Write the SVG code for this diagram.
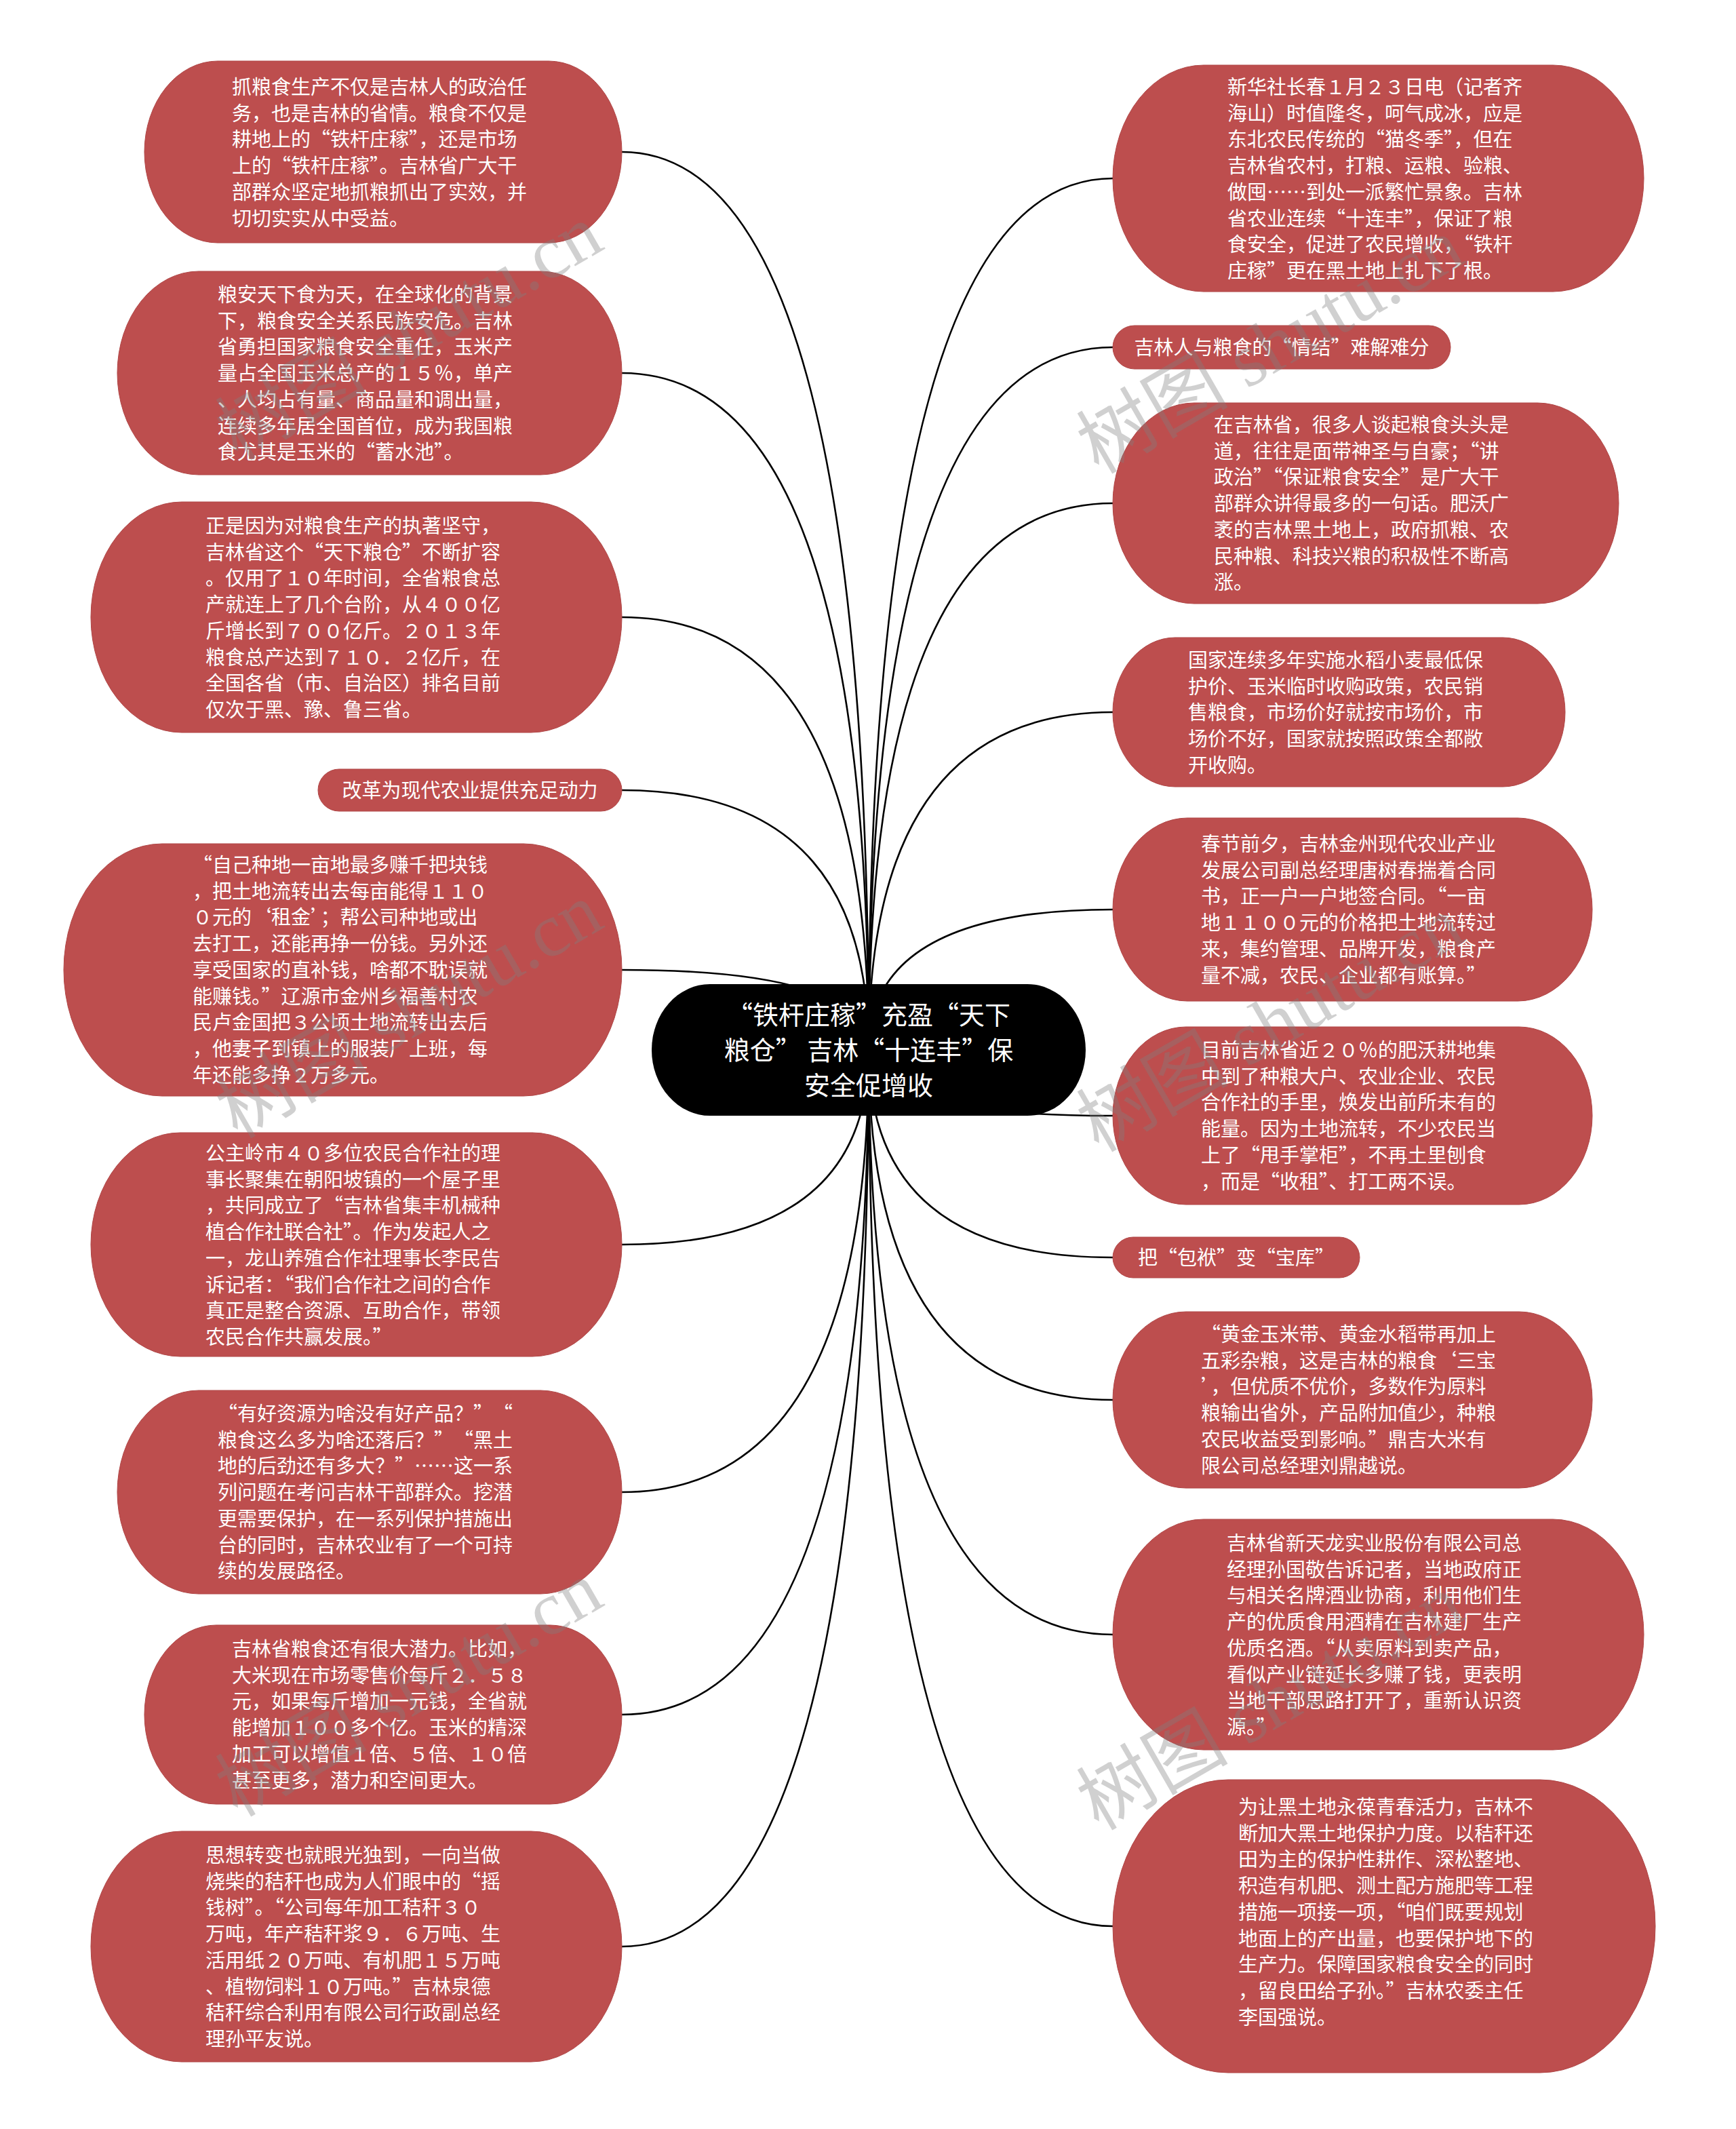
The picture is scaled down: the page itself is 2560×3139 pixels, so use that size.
<svg xmlns="http://www.w3.org/2000/svg" width="2560" height="3139" viewBox="0 0 2560 3139">
<style>
.bg{fill:#ffffff}
.node{fill:#BD4E4E;stroke:#B04646;stroke-width:1}
.t{font-family:"Noto Sans CJK SC","Microsoft YaHei",sans-serif;font-size:29px;fill:#ffffff}
.tc{font-family:"Noto Sans CJK SC",sans-serif;font-size:38px;fill:#ffffff;text-anchor:middle}
.lbl{text-anchor:middle}
.edge{fill:none;stroke:#000000;stroke-width:2.6}
.wm{font-family:"Liberation Serif","Noto Sans CJK SC",serif;font-size:112px;fill:#808080;opacity:0.36}
</style>
<rect class="bg" x="0" y="0" width="2560" height="3139"/>
<g id="connectors">
<path class="edge" d="M1281 1548 Q1281 224 917 224"/>
<path class="edge" d="M1281 1548 Q1281 550 917 550"/>
<path class="edge" d="M1281 1548 Q1281 910 917 910"/>
<path class="edge" d="M1281 1548 Q1281 1165 917 1165"/>
<path class="edge" d="M1281 1548 Q1281 1430 917 1430"/>
<path class="edge" d="M1281 1548 Q1281 1835 917 1835"/>
<path class="edge" d="M1281 1548 Q1281 2200 917 2200"/>
<path class="edge" d="M1281 1548 Q1281 2528 917 2528"/>
<path class="edge" d="M1281 1548 Q1281 2870 917 2870"/>
<path class="edge" d="M1281 1548 Q1281 263 1641 263"/>
<path class="edge" d="M1281 1548 Q1281 512 1641 512"/>
<path class="edge" d="M1281 1548 Q1281 742 1641 742"/>
<path class="edge" d="M1281 1548 Q1281 1050 1641 1050"/>
<path class="edge" d="M1281 1548 Q1281 1341 1641 1341"/>
<path class="edge" d="M1281 1548 Q1281 1645 1641 1645"/>
<path class="edge" d="M1281 1548 Q1281 1854 1641 1854"/>
<path class="edge" d="M1281 1548 Q1281 2064 1641 2064"/>
<path class="edge" d="M1281 1548 Q1281 2410 1641 2410"/>
<path class="edge" d="M1281 1548 Q1281 2840 1641 2840"/>
</g>
<g id="center">
<rect x="961" y="1451" width="640" height="194" rx="86" ry="97" fill="#000000"/>
<text class="tc"><tspan x="1281" y="1510">“铁杆庄稼”充盈“天下</tspan><tspan x="1281" y="1562">粮仓” 吉林“十连丰”保</tspan><tspan x="1281" y="1614">安全促增收</tspan></text>
</g>
<g id="L1">
<rect class="node" x="213" y="90" width="704" height="268" rx="108" ry="134"/>
<text class="t"><tspan x="342" y="139">抓粮食生产不仅是吉林人的政治任</tspan><tspan x="342" dy="38.7">务，也是吉林的省情。粮食不仅是</tspan><tspan x="342" dy="38.7">耕地上的“铁杆庄稼”，还是市场</tspan><tspan x="342" dy="38.7">上的“铁杆庄稼”。吉林省广大干</tspan><tspan x="342" dy="38.7">部群众坚定地抓粮抓出了实效，并</tspan><tspan x="342" dy="38.7">切切实实从中受益。</tspan></text>
</g>
<g id="L2">
<rect class="node" x="173" y="400" width="744" height="300" rx="120" ry="150"/>
<text class="t"><tspan x="321" y="445">粮安天下食为天，在全球化的背景</tspan><tspan x="321" dy="38.7">下，粮食安全关系民族安危。吉林</tspan><tspan x="321" dy="38.7">省勇担国家粮食安全重任，玉米产</tspan><tspan x="321" dy="38.7">量占全国玉米总产的１５％，单产</tspan><tspan x="321" dy="38.7">、人均占有量、商品量和调出量，</tspan><tspan x="321" dy="38.7">连续多年居全国首位，成为我国粮</tspan><tspan x="321" dy="38.7">食尤其是玉米的“蓄水池”。</tspan></text>
</g>
<g id="L3">
<rect class="node" x="134" y="740" width="783" height="340" rx="134" ry="170"/>
<text class="t"><tspan x="303" y="786">正是因为对粮食生产的执著坚守，</tspan><tspan x="303" dy="38.7">吉林省这个“天下粮仓”不断扩容</tspan><tspan x="303" dy="38.7">。仅用了１０年时间，全省粮食总</tspan><tspan x="303" dy="38.7">产就连上了几个台阶，从４００亿</tspan><tspan x="303" dy="38.7">斤增长到７００亿斤。２０１３年</tspan><tspan x="303" dy="38.7">粮食总产达到７１０．２亿斤，在</tspan><tspan x="303" dy="38.7">全国各省（市、自治区）排名目前</tspan><tspan x="303" dy="38.7">仅次于黑、豫、鲁三省。</tspan></text>
</g>
<g id="L4">
<rect class="node" x="469" y="1134" width="448" height="62" rx="31" ry="31"/>
<text class="t lbl" x="693" y="1176">改革为现代农业提供充足动力</text>
</g>
<g id="L5">
<rect class="node" x="94" y="1244" width="823" height="372" rx="145" ry="186"/>
<text class="t"><tspan x="284" y="1286">“自己种地一亩地最多赚千把块钱</tspan><tspan x="284" dy="38.7">，把土地流转出去每亩能得１１０</tspan><tspan x="284" dy="38.7">０元的‘租金’；帮公司种地或出</tspan><tspan x="284" dy="38.7">去打工，还能再挣一份钱。另外还</tspan><tspan x="284" dy="38.7">享受国家的直补钱，啥都不耽误就</tspan><tspan x="284" dy="38.7">能赚钱。”辽源市金州乡福善村农</tspan><tspan x="284" dy="38.7">民卢金国把３公顷土地流转出去后</tspan><tspan x="284" dy="38.7">，他妻子到镇上的服装厂上班，每</tspan><tspan x="284" dy="38.7">年还能多挣２万多元。</tspan></text>
</g>
<g id="L6">
<rect class="node" x="134" y="1670" width="783" height="330" rx="132" ry="165"/>
<text class="t"><tspan x="303" y="1711">公主岭市４０多位农民合作社的理</tspan><tspan x="303" dy="38.7">事长聚集在朝阳坡镇的一个屋子里</tspan><tspan x="303" dy="38.7">，共同成立了“吉林省集丰机械种</tspan><tspan x="303" dy="38.7">植合作社联合社”。作为发起人之</tspan><tspan x="303" dy="38.7">一，龙山养殖合作社理事长李民告</tspan><tspan x="303" dy="38.7">诉记者：“我们合作社之间的合作</tspan><tspan x="303" dy="38.7">真正是整合资源、互助合作，带领</tspan><tspan x="303" dy="38.7">农民合作共赢发展。”</tspan></text>
</g>
<g id="L7">
<rect class="node" x="173" y="2050" width="744" height="300" rx="120" ry="150"/>
<text class="t"><tspan x="321" y="2095">“有好资源为啥没有好产品？”　“</tspan><tspan x="321" dy="38.7">粮食这么多为啥还落后？”　“黑土</tspan><tspan x="321" dy="38.7">地的后劲还有多大？”……这一系</tspan><tspan x="321" dy="38.7">列问题在考问吉林干部群众。挖潜</tspan><tspan x="321" dy="38.7">更需要保护，在一系列保护措施出</tspan><tspan x="321" dy="38.7">台的同时，吉林农业有了一个可持</tspan><tspan x="321" dy="38.7">续的发展路径。</tspan></text>
</g>
<g id="L8">
<rect class="node" x="213" y="2396" width="704" height="264" rx="106" ry="132"/>
<text class="t"><tspan x="342" y="2442">吉林省粮食还有很大潜力。比如，</tspan><tspan x="342" dy="38.7">大米现在市场零售价每斤２．５８</tspan><tspan x="342" dy="38.7">元，如果每斤增加一元钱，全省就</tspan><tspan x="342" dy="38.7">能增加１００多个亿。玉米的精深</tspan><tspan x="342" dy="38.7">加工可以增值１倍、５倍、１０倍</tspan><tspan x="342" dy="38.7">甚至更多，潜力和空间更大。</tspan></text>
</g>
<g id="L9">
<rect class="node" x="134" y="2700" width="783" height="340" rx="134" ry="170"/>
<text class="t"><tspan x="303" y="2746">思想转变也就眼光独到，一向当做</tspan><tspan x="303" dy="38.7">烧柴的秸秆也成为人们眼中的“摇</tspan><tspan x="303" dy="38.7">钱树”。“公司每年加工秸秆３０</tspan><tspan x="303" dy="38.7">万吨，年产秸秆浆９．６万吨、生</tspan><tspan x="303" dy="38.7">活用纸２０万吨、有机肥１５万吨</tspan><tspan x="303" dy="38.7">、植物饲料１０万吨。”吉林泉德</tspan><tspan x="303" dy="38.7">秸秆综合利用有限公司行政副总经</tspan><tspan x="303" dy="38.7">理孙平友说。</tspan></text>
</g>
<g id="R1">
<rect class="node" x="1641" y="96" width="783" height="334" rx="134" ry="167"/>
<text class="t"><tspan x="1810" y="139">新华社长春１月２３日电（记者齐</tspan><tspan x="1810" dy="38.7">海山）时值隆冬，呵气成冰，应是</tspan><tspan x="1810" dy="38.7">东北农民传统的“猫冬季”，但在</tspan><tspan x="1810" dy="38.7">吉林省农村，打粮、运粮、验粮、</tspan><tspan x="1810" dy="38.7">做囤……到处一派繁忙景象。吉林</tspan><tspan x="1810" dy="38.7">省农业连续“十连丰”，保证了粮</tspan><tspan x="1810" dy="38.7">食安全，促进了农民增收，“铁杆</tspan><tspan x="1810" dy="38.7">庄稼”更在黑土地上扎下了根。</tspan></text>
</g>
<g id="R2">
<rect class="node" x="1641" y="480" width="498" height="64" rx="32" ry="32"/>
<text class="t lbl" x="1890" y="523">吉林人与粮食的“情结”难解难分</text>
</g>
<g id="R3">
<rect class="node" x="1641" y="594" width="746" height="296" rx="120" ry="148"/>
<text class="t"><tspan x="1790" y="637">在吉林省，很多人谈起粮食头头是</tspan><tspan x="1790" dy="38.7">道，往往是面带神圣与自豪；“讲</tspan><tspan x="1790" dy="38.7">政治”“保证粮食安全”是广大干</tspan><tspan x="1790" dy="38.7">部群众讲得最多的一句话。肥沃广</tspan><tspan x="1790" dy="38.7">袤的吉林黑土地上，政府抓粮、农</tspan><tspan x="1790" dy="38.7">民种粮、科技兴粮的积极性不断高</tspan><tspan x="1790" dy="38.7">涨。</tspan></text>
</g>
<g id="R4">
<rect class="node" x="1641" y="940" width="667" height="220" rx="92" ry="110"/>
<text class="t"><tspan x="1752" y="984">国家连续多年实施水稻小麦最低保</tspan><tspan x="1752" dy="38.7">护价、玉米临时收购政策，农民销</tspan><tspan x="1752" dy="38.7">售粮食，市场价好就按市场价，市</tspan><tspan x="1752" dy="38.7">场价不好，国家就按照政策全都敞</tspan><tspan x="1752" dy="38.7">开收购。</tspan></text>
</g>
<g id="R5">
<rect class="node" x="1641" y="1206" width="707" height="270" rx="110" ry="135"/>
<text class="t"><tspan x="1771" y="1255">春节前夕，吉林金州现代农业产业</tspan><tspan x="1771" dy="38.7">发展公司副总经理唐树春揣着合同</tspan><tspan x="1771" dy="38.7">书，正一户一户地签合同。“一亩</tspan><tspan x="1771" dy="38.7">地１１００元的价格把土地流转过</tspan><tspan x="1771" dy="38.7">来，集约管理、品牌开发，粮食产</tspan><tspan x="1771" dy="38.7">量不减，农民、企业都有账算。”</tspan></text>
</g>
<g id="R6">
<rect class="node" x="1641" y="1514" width="707" height="262" rx="108" ry="131"/>
<text class="t"><tspan x="1771" y="1559">目前吉林省近２０％的肥沃耕地集</tspan><tspan x="1771" dy="38.7">中到了种粮大户、农业企业、农民</tspan><tspan x="1771" dy="38.7">合作社的手里，焕发出前所未有的</tspan><tspan x="1771" dy="38.7">能量。因为土地流转，不少农民当</tspan><tspan x="1771" dy="38.7">上了“甩手掌柜”，不再土里刨食</tspan><tspan x="1771" dy="38.7">，而是“收租”、打工两不误。</tspan></text>
</g>
<g id="R7">
<rect class="node" x="1641" y="1824" width="364" height="60" rx="30" ry="30"/>
<text class="t lbl" x="1823" y="1865">把“包袱”变“宝库”</text>
</g>
<g id="R8">
<rect class="node" x="1641" y="1934" width="707" height="260" rx="108" ry="130"/>
<text class="t"><tspan x="1771" y="1978">“黄金玉米带、黄金水稻带再加上</tspan><tspan x="1771" dy="38.7">五彩杂粮，这是吉林的粮食‘三宝</tspan><tspan x="1771" dy="38.7">’，但优质不优价，多数作为原料</tspan><tspan x="1771" dy="38.7">粮输出省外，产品附加值少，种粮</tspan><tspan x="1771" dy="38.7">农民收益受到影响。”鼎吉大米有</tspan><tspan x="1771" dy="38.7">限公司总经理刘鼎越说。</tspan></text>
</g>
<g id="R9">
<rect class="node" x="1641" y="2240" width="783" height="340" rx="134" ry="170"/>
<text class="t"><tspan x="1809" y="2286">吉林省新天龙实业股份有限公司总</tspan><tspan x="1809" dy="38.7">经理孙国敬告诉记者，当地政府正</tspan><tspan x="1809" dy="38.7">与相关名牌酒业协商，利用他们生</tspan><tspan x="1809" dy="38.7">产的优质食用酒精在吉林建厂生产</tspan><tspan x="1809" dy="38.7">优质名酒。“从卖原料到卖产品，</tspan><tspan x="1809" dy="38.7">看似产业链延长多赚了钱，更表明</tspan><tspan x="1809" dy="38.7">当地干部思路打开了，重新认识资</tspan><tspan x="1809" dy="38.7">源。”</tspan></text>
</g>
<g id="R10">
<rect class="node" x="1641" y="2624" width="800" height="432" rx="170" ry="216"/>
<text class="t"><tspan x="1826" y="2675">为让黑土地永葆青春活力，吉林不</tspan><tspan x="1826" dy="38.7">断加大黑土地保护力度。以秸秆还</tspan><tspan x="1826" dy="38.7">田为主的保护性耕作、深松整地、</tspan><tspan x="1826" dy="38.7">积造有机肥、测土配方施肥等工程</tspan><tspan x="1826" dy="38.7">措施一项接一项，“咱们既要规划</tspan><tspan x="1826" dy="38.7">地面上的产出量，也要保护地下的</tspan><tspan x="1826" dy="38.7">生产力。保障国家粮食安全的同时</tspan><tspan x="1826" dy="38.7">，留良田给子孙。”吉林农委主任</tspan><tspan x="1826" dy="38.7">李国强说。</tspan></text>
</g>
<g id="watermark">
<text class="wm" transform="translate(350 680) rotate(-30)">树图 shutu.cn</text>
<text class="wm" transform="translate(350 1680) rotate(-30)">树图 shutu.cn</text>
<text class="wm" transform="translate(350 2680) rotate(-30)">树图 shutu.cn</text>
<text class="wm" transform="translate(1620 700) rotate(-30)">树图 shutu.cn</text>
<text class="wm" transform="translate(1620 1700) rotate(-30)">树图 shutu.cn</text>
<text class="wm" transform="translate(1620 2700) rotate(-30)">树图 shutu.cn</text>
</g>
</svg>
